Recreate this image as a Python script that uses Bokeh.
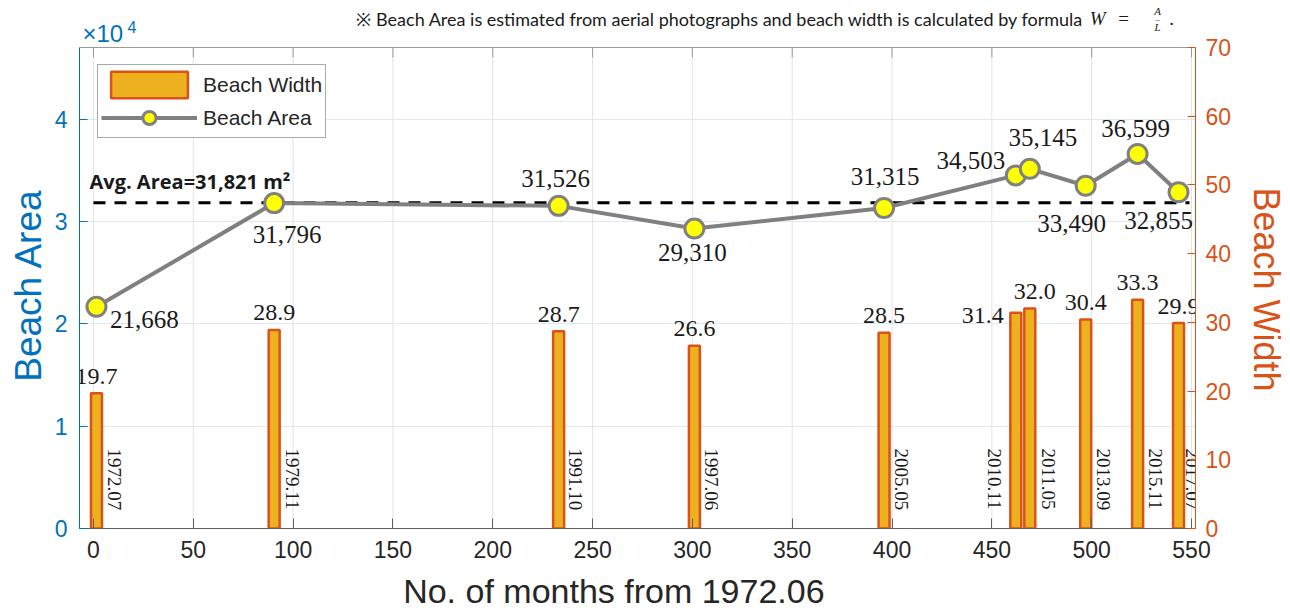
import math
from bokeh.plotting import figure
from bokeh.models import (Range1d, LinearAxis, FixedTicker, Label, Legend,
                          LegendItem, ColumnDataSource)
from bokeh.core.properties import value
from bokeh.embed import file_html
from bokeh.resources import INLINE

# ---------------- data ----------------
dates = ["1972.07", "1979.11", "1991.10", "1997.06", "2005.05",
         "2010.11", "2011.05", "2013.09", "2015.11", "2017.07"]
months = [1.5, 90.5, 233, 301, 396, 462, 469, 497, 523, 543.5]
beach_area = [21668, 31796, 31526, 29310, 31315, 34503, 35145, 33490, 36599, 32855]
beach_width = [19.7, 28.9, 28.7, 26.6, 28.5, 31.4, 32.0, 30.4, 33.3, 29.9]
avg_area = 31821
avg_extent = [0, 549]
x_ticks = list(range(0, 551, 50))
area_ticks = [0, 10000, 20000, 30000, 40000]
area_tick_labels = ["0", "1", "2", "3", "4"]
width_ticks = list(range(0, 71, 10))

# ---------------- axis limits / layout ----------------
X_MIN, X_MAX = -7, 552
Y_MAX = 47000          # top of the axes box (area)
W_MAX = 70             # top of the axes box (width)
BOX_PX = 481           # height of the axes box in px
TOP_PAD_PX = 47        # blank band above the box (holds the note)
Y_TOP = Y_MAX * (BOX_PX + TOP_PAD_PX) / BOX_PX
W_TOP = W_MAX * (BOX_PX + TOP_PAD_PX) / BOX_PX
PX = Y_MAX / BOX_PX    # area units per pixel
NB = "\u00a0"          # padding used to shift axis titles off-centre

# ---------------- styles ----------------
BLUE = "#0072BD"
ORANGE = "#D95319"
BAR_FILL = "#EDB120"
GRAY = "#808080"
YELLOW = "#FFFF00"
INK = "#1a1a1a"
AX = "#262626"
SANS = "Liberation Sans"
SERIF = "Liberation Serif"

# label offsets in screen px (positive dy = down)
area_dx = [48, 13, -3, -2, 1, -45, 13, -14, -2, -20]
area_dy = [13, 31, -27, 24, -32, -15, -31, 38, -25, 28]
width_dx = [0, 0, 0, 0, 0, -33, 5, 0, 0, 0]
width_dy = [-17, -17, -17, -17, -17, 3, -17, -17, -17, -17]
date_dx = [18, 18, 17, 17, 17, -21, 19, 18, 18, 14]

src = ColumnDataSource(dict(
    x=months, a=beach_area, w=beach_width, d=dates,
    at=[f"{v:,}" for v in beach_area],
    wt=[f"{v:.1f}" for v in beach_width],
    adx=area_dx, ady=area_dy, wdx=width_dx, wdy=width_dy, ddx=date_dx,
))

p = figure(width=1290, height=615, x_range=Range1d(X_MIN, X_MAX),
           y_range=Range1d(0, Y_TOP), output_backend="svg",
           toolbar_location=None, min_border_left=79, min_border_right=93,
           min_border_top=0, min_border_bottom=87)
p.extra_y_ranges = {"w": Range1d(0, W_TOP)}
p.outline_line_color = None
p.background_fill_color = "white"
p.border_fill_color = "white"

# grids: horizontal from Bokeh, vertical drawn only inside the box
p.xgrid.visible = False
p.ygrid.ticker = FixedTicker(ticks=area_ticks)
p.ygrid.grid_line_color = "#DCEAF5"
n = len(x_ticks)
p.segment(x0=x_ticks, y0=[0] * n, x1=x_ticks, y1=[Y_MAX] * n,
          line_color="#E3E3E3", line_width=1)

# box top edge with inward ticks
p.segment(x0=[X_MIN], y0=[Y_MAX], x1=[X_MAX], y1=[Y_MAX],
          line_color="#9a9a9a", line_width=1.2)
p.segment(x0=x_ticks, y0=[Y_MAX] * n, x1=x_ticks, y1=[Y_MAX - 10 * PX] * n,
          line_color="#9a9a9a", line_width=1)

# bottom axis
xa = p.xaxis[0]
xa.ticker = FixedTicker(ticks=x_ticks)
xa.major_label_text_font = SANS
xa.major_label_text_font_size = "23px"
xa.major_label_text_color = AX
xa.major_label_standoff = 12
xa.axis_line_color = "#606060"
xa.major_tick_line_color = "#606060"
xa.major_tick_in = 10
xa.major_tick_out = 0
xa.minor_tick_line_color = None

# second (label-only) bottom axis carrying the x title
xl = LinearAxis(ticker=FixedTicker(ticks=[]),
                axis_label="No. of months from 1972.06" + NB * 5)
xl.axis_line_color = None
xl.major_tick_line_color = None
xl.minor_tick_line_color = None
xl.major_label_text_font_size = "0px"
xl.major_tick_in = 0
xl.major_tick_out = 0
xl.major_label_standoff = 0
xl.axis_label_standoff = 11
xl.axis_label_text_font = SANS
xl.axis_label_text_font_size = "34px"
xl.axis_label_text_font_style = "normal"
xl.axis_label_text_color = AX
p.add_layout(xl, "below")

# left axis
ya = p.yaxis[0]
ya.bounds = (0, Y_MAX)
ya.ticker = FixedTicker(ticks=area_ticks)
ya.major_label_overrides = {t: l for t, l in zip(area_ticks, area_tick_labels)}
ya.axis_label = "Beach Area" + NB * 4
ya.axis_label_text_font = SANS
ya.axis_label_text_font_size = "37px"
ya.axis_label_text_font_style = "normal"
ya.axis_label_text_color = BLUE
ya.axis_label_standoff = 3
ya.major_label_text_font = SANS
ya.major_label_text_font_size = "23px"
ya.major_label_text_color = BLUE
ya.major_label_standoff = 12
ya.axis_line_color = BLUE
ya.major_tick_line_color = BLUE
ya.major_tick_in = 8
ya.major_tick_out = 0
ya.minor_tick_line_color = None

# right axis
ra = LinearAxis(y_range_name="w", bounds=(0, W_MAX),
                ticker=FixedTicker(ticks=width_ticks),
                axis_label=NB * 5 + "Beach Width")
ra.axis_label_text_font = SANS
ra.axis_label_text_font_size = "36px"
ra.axis_label_text_font_style = "normal"
ra.axis_label_text_color = ORANGE
ra.axis_label_standoff = 12
ra.major_label_text_font = SANS
ra.major_label_text_font_size = "23px"
ra.major_label_text_color = ORANGE
ra.major_label_standoff = 10
ra.axis_line_color = ORANGE
ra.major_tick_line_color = ORANGE
ra.major_tick_in = 8
ra.major_tick_out = 0
ra.minor_tick_line_color = None
p.add_layout(ra, "right")

# ---------------- glyphs ----------------
bars = p.vbar(x="x", top="w", width=5.5, source=src, y_range_name="w",
              fill_color=BAR_FILL, line_color=ORANGE, line_width=2.5)

p.line(x=avg_extent, y=[avg_area, avg_area], line_color="black",
       line_width=3, line_dash="12 9")

line = p.line("x", "a", source=src, line_color=GRAY, line_width=4)
pts = p.scatter("x", "a", source=src, marker="circle", size=19,
                fill_color=YELLOW, line_color=GRAY, line_width=3)

# area labels
p.text(x="x", y="a", text="at", source=src, x_offset="adx", y_offset="ady",
       text_align="center", text_baseline="middle", text_font=value(SERIF),
       text_font_size="25px", text_color=INK)
# width labels
p.text(x="x", y="w", text="wt", source=src, y_range_name="w",
       x_offset="wdx", y_offset="wdy", text_align="center",
       text_baseline="middle", text_font=value(SERIF),
       text_font_size="24px", text_color=INK)
# date labels (rotated)
p.text(x="x", y=0, text="d", source=src, y_range_name="w",
       x_offset="ddx", y_offset=-80, angle=-math.pi / 2,
       text_align="left", text_baseline="middle", text_font=value(SERIF),
       text_font_size="19px", text_color=INK)

# average label
p.add_layout(Label(x=-2, y=avg_area, y_offset=21, text="Avg. Area=31,821 m²",
                   text_font="Open Sans", text_font_style="bold",
                   text_font_size="20px", text_color=INK,
                   text_baseline="alphabetic", text_align="left"))

# x10^4 multiplier (in the band above the box)
p.add_layout(Label(x=-5.5, y=Y_MAX + 14 * PX, text="×10", text_font=SANS,
                   text_font_size="24px", text_color=BLUE,
                   text_baseline="middle", text_align="left"))
p.add_layout(Label(x=17, y=Y_MAX + 21 * PX, text="4", text_font=SANS,
                   text_font_size="16px", text_color=BLUE,
                   text_baseline="middle", text_align="left"))

# note with formula W = A / L
NOTE_Y = Y_MAX + 29 * PX
p.add_layout(Label(x=496, y=NOTE_Y,
                   text="※ Beach Area is estimated from aerial photographs and beach width is calculated by formula",
                   text_font="Lato", text_font_size="18px", text_color=INK,
                   text_baseline="middle", text_align="right"))
p.add_layout(Label(x=503, y=NOTE_Y, text="W", text_font=SERIF,
                   text_font_style="italic", text_font_size="19px",
                   text_color=INK, text_baseline="middle", text_align="center"))
p.add_layout(Label(x=516, y=NOTE_Y, text="=", text_font=SERIF,
                   text_font_size="19px", text_color=INK,
                   text_baseline="middle", text_align="center"))
p.add_layout(Label(x=533, y=Y_MAX + 37 * PX, text="A", text_font=SERIF,
                   text_font_style="italic", text_font_size="11px",
                   text_color=INK, text_baseline="middle", text_align="center"))
p.add_layout(Label(x=533, y=NOTE_Y, text="–", text_font=SERIF,
                   text_font_size="9px", text_color=INK,
                   text_baseline="middle", text_align="center"))
p.add_layout(Label(x=533, y=Y_MAX + 21 * PX, text="L", text_font=SERIF,
                   text_font_style="italic", text_font_size="11px",
                   text_color=INK, text_baseline="middle", text_align="center"))
p.add_layout(Label(x=540, y=NOTE_Y, text=".", text_font=SERIF,
                   text_font_size="19px", text_color=INK,
                   text_baseline="middle", text_align="center"))

# legend
legend = Legend(items=[LegendItem(label="Beach Width", renderers=[bars]),
                       LegendItem(label="Beach Area", renderers=[line, pts])],
                location=(18, 390), padding=3, spacing=0,
                glyph_width=96, glyph_height=33, label_height=33,
                label_standoff=6, label_text_font=SANS,
                label_text_font_size="21px", label_text_color=AX,
                border_line_color="#555555", border_line_width=1,
                background_fill_color="white", background_fill_alpha=1)
p.add_layout(legend)

open("out.html", "w").write(file_html(p, INLINE))
